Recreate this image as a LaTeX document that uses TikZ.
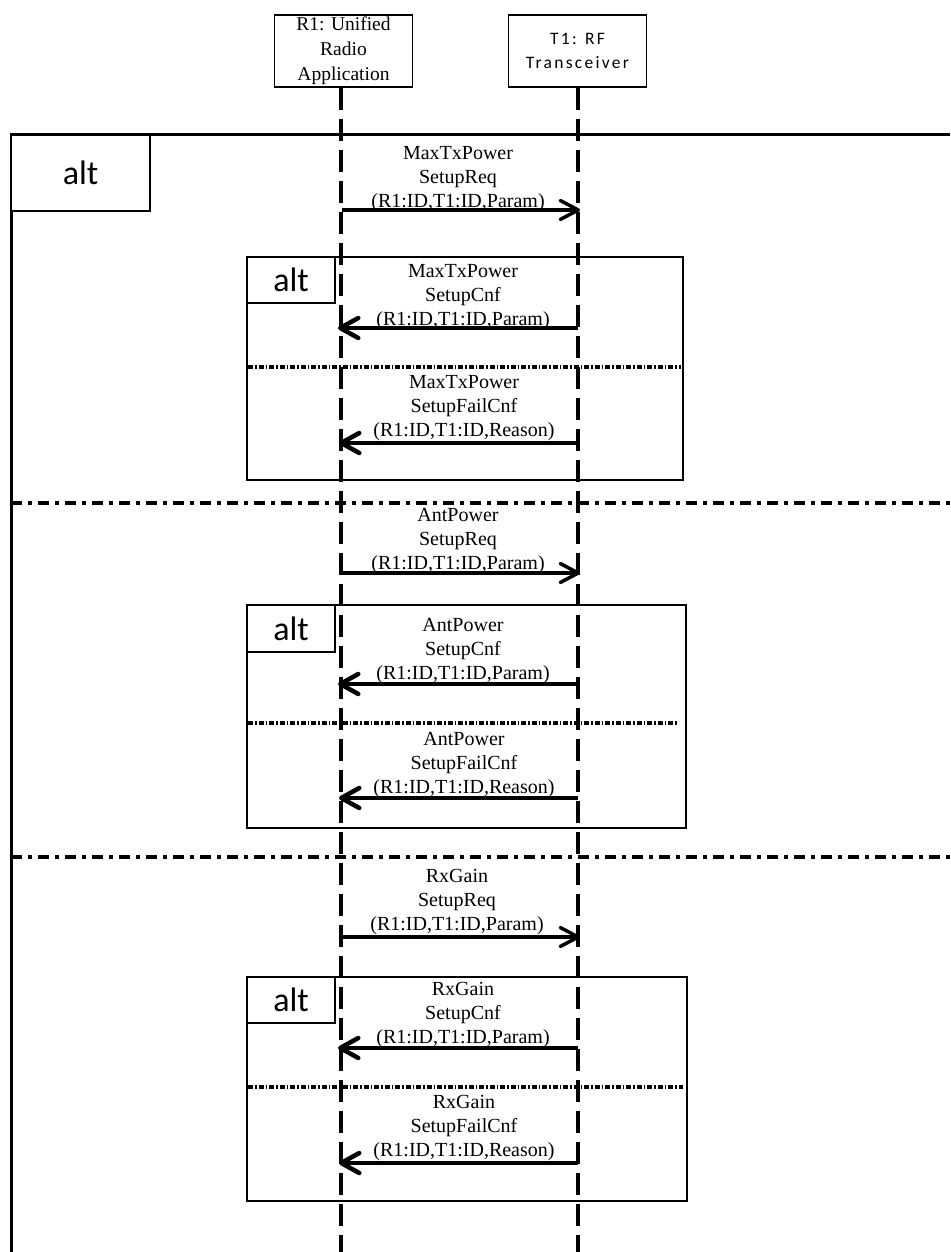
\documentclass[tikz,border=0pt]{standalone}
\usepackage{fontspec}
\setmainfont{Liberation Serif}
\newfontfamily\calib{Carlito}
\newfontfamily\calibsp{Carlito}[LetterSpace=13]
\usetikzlibrary{arrows.meta}
\tikzset{
  lifeline/.style={line width=4pt, dash pattern=on 22pt off 9pt},
  framebox/.style={draw, line width=2.8pt},
  outerdiv/.style={line width=4.5pt, dash pattern=on 11pt off 6pt on 4pt off 6pt},
  innerdiv/.style={line width=3.2pt, dash pattern=on 5pt off 2pt on 1.5pt off 2pt},
  msg/.style={font=\fontsize{20}{24}\selectfont, align=center, inner sep=0pt},
  req/.style={line width=3.5pt, -{Straight Barb[length=18pt,width=19pt,round]}},
  resp/.style={line width=4.5pt, -{Straight Barb[length=18pt,width=20pt,round]}},
  headbox/.style={draw, line width=1.6pt, inner sep=0pt, minimum width=138pt, minimum height=72pt, align=center},
  tagbox/.style={draw, fill=white, line width=2.5pt, inner sep=0pt, font=\calib\fontsize{34}{34}\selectfont},
}
\begin{document}
\begin{tikzpicture}[x=1pt,y=-1pt]
\useasboundingbox (0,0) rectangle (950,1252);

% header boxes
\node[headbox, font=\fontsize{19.5}{25}\selectfont] (R1) at (343.5,51) {R1: Unified\\Radio\\Application};
\node[headbox, font=\calibsp\fontsize{17.5}{24}\selectfont] (T1) at (577.5,51) {T1: RF\\Transceiver};

% outer frame
\draw[line width=3pt] (11,1252) -- (11,135) -- (950,135);
\node[tagbox, minimum width=139pt, minimum height=76pt] (tag0) at (80.5,173) {alt};

% inner alt boxes
\node[framebox, minimum width=436pt, minimum height=223pt] (box1) at (465,368.5) {};
\node[framebox, minimum width=439pt, minimum height=223pt] (box2) at (466.5,716.5) {};
\node[framebox, minimum width=440pt, minimum height=224pt] (box3) at (467,1089) {};
\node[tagbox, minimum width=88pt, minimum height=46pt] (tag1) at (291,280) {alt};
\node[tagbox, minimum width=88pt, minimum height=47pt] (tag2) at (291,628.5) {alt};
\node[tagbox, minimum width=88pt, minimum height=46pt] (tag3) at (291,1000) {alt};

% dividers
\coordinate (d1l) at (11,503);  \coordinate (d1r) at (950,503);
\coordinate (d2l) at (11,857);  \coordinate (d2r) at (950,857);
\draw[outerdiv] (d1l) -- (d1r);
\draw[outerdiv] (d2l) -- (d2r);
\coordinate (i1l) at (248,367);  \coordinate (i1r) at (681,367);
\coordinate (i2l) at (248,723);  \coordinate (i2r) at (677,723);
\coordinate (i3l) at (248,1087); \coordinate (i3r) at (683,1087);
\draw[innerdiv] (i1l) -- (i1r);
\draw[innerdiv] (i2l) -- (i2r);
\draw[innerdiv] (i3l) -- (i3r);

% lifelines
\coordinate (r1bot) at (341,1252);
\coordinate (t1bot) at (578,1252);
\draw[lifeline] (R1.south -| r1bot) -- (r1bot);
\draw[lifeline] (T1.south -| t1bot) -- (t1bot);

% messages
\coordinate (m1a) at (342,210);  \coordinate (m1b) at (580,210);
\coordinate (m2a) at (578,328);  \coordinate (m2b) at (338,328);
\coordinate (m3a) at (578,443);  \coordinate (m3b) at (339,443);
\coordinate (m4a) at (342,573);  \coordinate (m4b) at (580,573);
\coordinate (m5a) at (578,684);  \coordinate (m5b) at (338,684);
\coordinate (m6a) at (578,798);  \coordinate (m6b) at (339,798);
\coordinate (m7a) at (342,937);  \coordinate (m7b) at (580,937);
\coordinate (m8a) at (578,1048); \coordinate (m8b) at (338,1048);
\coordinate (m9a) at (578,1163); \coordinate (m9b) at (339,1163);

\node[msg] (t1) at (458,179) {MaxTxPower\\SetupReq\\(R1:ID,T1:ID,Param)};
\node[msg] (t2) at (463,297) {MaxTxPower\\SetupCnf\\(R1:ID,T1:ID,Param)};
\node[msg] (t3) at (464,408) {MaxTxPower\\SetupFailCnf\\(R1:ID,T1:ID,Reason)};
\node[msg] (t4) at (458,541) {AntPower\\SetupReq\\(R1:ID,T1:ID,Param)};
\node[msg] (t5) at (463,651) {AntPower\\SetupCnf\\(R1:ID,T1:ID,Param)};
\node[msg] (t6) at (464,765) {AntPower\\SetupFailCnf\\(R1:ID,T1:ID,Reason)};
\node[msg] (t7) at (457,902) {RxGain\\SetupReq\\(R1:ID,T1:ID,Param)};
\node[msg] (t8) at (463,1015) {RxGain\\SetupCnf\\(R1:ID,T1:ID,Param)};
\node[msg] (t9) at (464,1128) {RxGain\\SetupFailCnf\\(R1:ID,T1:ID,Reason)};

\draw[req] (m1a) -- (m1b);
\draw[resp] (m2a) -- (m2b);
\draw[resp] (m3a) -- (m3b);
\draw[req] (m4a) -- (m4b);
\draw[resp] (m5a) -- (m5b);
\draw[resp] (m6a) -- (m6b);
\draw[req] (m7a) -- (m7b);
\draw[resp] (m8a) -- (m8b);
\draw[resp] (m9a) -- (m9b);
\end{tikzpicture}
\end{document}
